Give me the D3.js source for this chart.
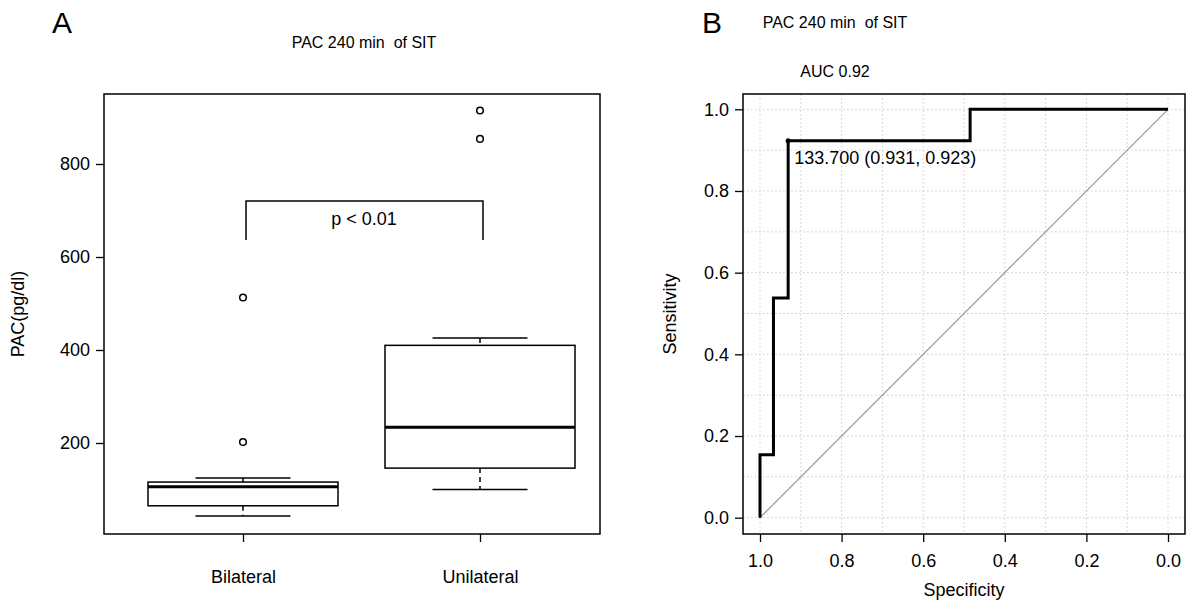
<!DOCTYPE html>
<html><head><meta charset="utf-8">
<script src="https://cdn.jsdelivr.net/npm/d3@7"></script>
<style>body{margin:0;background:#fff}text{font-family:"Liberation Sans",Arial,sans-serif;fill:#000;white-space:pre}</style>
</head><body>
<svg id="c" width="1186" height="601"></svg>
<script>
// panel A: box summaries
const groups = ['Bilateral', 'Unilateral'];
const boxStats = [
	{ lo: 43, q1: 65, med: 106, q3: 116, hi: 125, out: [202, 513] },
	{ lo: 100, q1: 146, med: 234, q3: 410, hi: 426, out: [854, 915] }
];
const yTicksA = [200, 400, 600, 800];
// panel B: ROC curve (specificity, sensitivity)
const rocSpec = [1, 1, 0.967, 0.967, 0.931, 0.931, 0.485, 0.485, 0];
const rocSens = [0, 0.154, 0.154, 0.538, 0.538, 0.923, 0.923, 1, 1];
const ticksB = [0, 0.2, 0.4, 0.6, 0.8, 1];

const svg = d3.select('#c');
const font = 18;

// ---- panel A
const yA = d3.scaleLinear().domain([200, 800]).range([443, 164]);
const xA = d3.scalePoint().domain(groups).range([243, 480]);
svg.append('rect').attr('x', 104).attr('y', 94).attr('width', 496).attr('height', 440)
	.attr('fill', 'none').attr('stroke', '#000').attr('stroke-width', 1.5);
svg.append('g').attr('transform', 'translate(104,0)').call(d3.axisLeft(yA).tickValues(yTicksA).tickSize(8).tickPadding(6))
	.call(g => { g.select('.domain').remove(); g.selectAll('text').attr('font-size', font).style('font-family', 'Liberation Sans'); g.selectAll('line').attr('stroke-width', 1.3); });
svg.append('g').attr('transform', 'translate(0,534)').call(d3.axisBottom(xA).tickSize(8).tickPadding(28))
	.call(g => { g.select('.domain').remove(); g.selectAll('text').attr('font-size', font).style('font-family', 'Liberation Sans'); g.selectAll('line').attr('stroke-width', 1.3); });

const bw = 190;
boxStats.forEach((s, i) => {
	const cx = xA(groups[i]);
	const g = svg.append('g').attr('stroke', '#000').attr('fill', 'none').attr('stroke-width', 1.5);
	g.append('line').attr('x1', cx).attr('x2', cx).attr('y1', yA(s.hi)).attr('y2', yA(s.q3)).attr('stroke-dasharray', '5,4');
	g.append('line').attr('x1', cx).attr('x2', cx).attr('y1', yA(s.q1)).attr('y2', yA(s.lo)).attr('stroke-dasharray', '5,4');
	[s.hi, s.lo].forEach(v => g.append('line').attr('x1', cx - bw / 4).attr('x2', cx + bw / 4).attr('y1', yA(v)).attr('y2', yA(v)));
	g.append('rect').attr('x', cx - bw / 2).attr('width', bw).attr('y', yA(s.q3)).attr('height', yA(s.q1) - yA(s.q3)).attr('fill', '#fff');
	g.append('line').attr('x1', cx - bw / 2).attr('x2', cx + bw / 2).attr('y1', yA(s.med)).attr('y2', yA(s.med)).attr('stroke-width', 3);
	s.out.forEach(v => g.append('circle').attr('cx', cx).attr('cy', yA(v)).attr('r', 3.3));
});
// significance bracket
svg.append('path').attr('d', `M${xA(groups[0]) + 3},240V201H${xA(groups[1]) + 3}V240`)
	.attr('fill', 'none').attr('stroke', '#000').attr('stroke-width', 1.5);
svg.append('text').attr('x', 364).attr('y', 225).attr('text-anchor', 'middle').attr('font-size', font).text('p < 0.01');
svg.append('text').attr('x', 364).attr('y', 48).attr('text-anchor', 'middle').attr('font-size', 16).text('PAC 240 min  of SIT');
svg.append('text').attr('transform', 'translate(24,314) rotate(-90)').attr('text-anchor', 'middle').attr('font-size', font).text('PAC(pg/dl)');
svg.append('text').attr('x', 52).attr('y', 33).attr('font-size', 30).text('A');

// ---- panel B
const xB = d3.scaleLinear().domain([1, 0]).range([760, 1168]);
const yB = d3.scaleLinear().domain([0, 1]).range([517.7, 109.3]);
const grid = d3.range(0, 1.01, 0.1);
svg.append('g').selectAll('line.gx').data(grid).join('line')
	.attr('x1', d => xB(d)).attr('x2', d => xB(d)).attr('y1', 94).attr('y2', 534)
	.attr('stroke', '#ccc').attr('stroke-dasharray', '1.5,2.5');
svg.append('g').selectAll('line.gy').data(grid).join('line')
	.attr('y1', d => yB(d)).attr('y2', d => yB(d)).attr('x1', 743).attr('x2', 1185)
	.attr('stroke', '#ccc').attr('stroke-dasharray', '1.5,2.5');
svg.append('line').attr('x1', xB(1)).attr('y1', yB(0)).attr('x2', xB(0)).attr('y2', yB(1))
	.attr('stroke', '#999').attr('stroke-width', 1.2);
svg.append('path').datum(rocSpec.map((s, i) => [s, rocSens[i]]))
	.attr('d', d3.line().x(d => xB(d[0])).y(d => yB(d[1])))
	.attr('fill', 'none').attr('stroke', '#000').attr('stroke-width', 3);
svg.append('circle').attr('cx', xB(0.931)).attr('cy', yB(0.923)).attr('r', 2.5);
svg.append('text').attr('x', xB(0.931) + 6).attr('y', yB(0.923) + 23).attr('font-size', font).text('133.700 (0.931, 0.923)');
svg.append('rect').attr('x', 743).attr('y', 94).attr('width', 442).attr('height', 440)
	.attr('fill', 'none').attr('stroke', '#000').attr('stroke-width', 1.5);
svg.append('g').attr('transform', 'translate(743,0)').call(d3.axisLeft(yB).tickValues(ticksB).tickFormat(d3.format('.1f')).tickSize(8).tickPadding(6))
	.call(g => { g.select('.domain').remove(); g.selectAll('text').attr('font-size', font).style('font-family', 'Liberation Sans'); g.selectAll('line').attr('stroke-width', 1.3); });
svg.append('g').attr('transform', 'translate(0,534)').call(d3.axisBottom(xB).tickValues(ticksB).tickFormat(d3.format('.1f')).tickSize(8).tickPadding(12))
	.call(g => { g.select('.domain').remove(); g.selectAll('text').attr('font-size', font).style('font-family', 'Liberation Sans'); g.selectAll('line').attr('stroke-width', 1.3); });
svg.append('text').attr('x', 964).attr('y', 596).attr('text-anchor', 'middle').attr('font-size', font).text('Specificity');
svg.append('text').attr('transform', 'translate(676,314) rotate(-90)').attr('text-anchor', 'middle').attr('font-size', font).text('Sensitivity');
svg.append('text').attr('x', 835).attr('y', 28).attr('text-anchor', 'middle').attr('font-size', 16).text('PAC 240 min  of SIT');
svg.append('text').attr('x', 835).attr('y', 77).attr('text-anchor', 'middle').attr('font-size', 16).text('AUC 0.92');
svg.append('text').attr('x', 702).attr('y', 33).attr('font-size', 30).text('B');
</script>
</body></html>
